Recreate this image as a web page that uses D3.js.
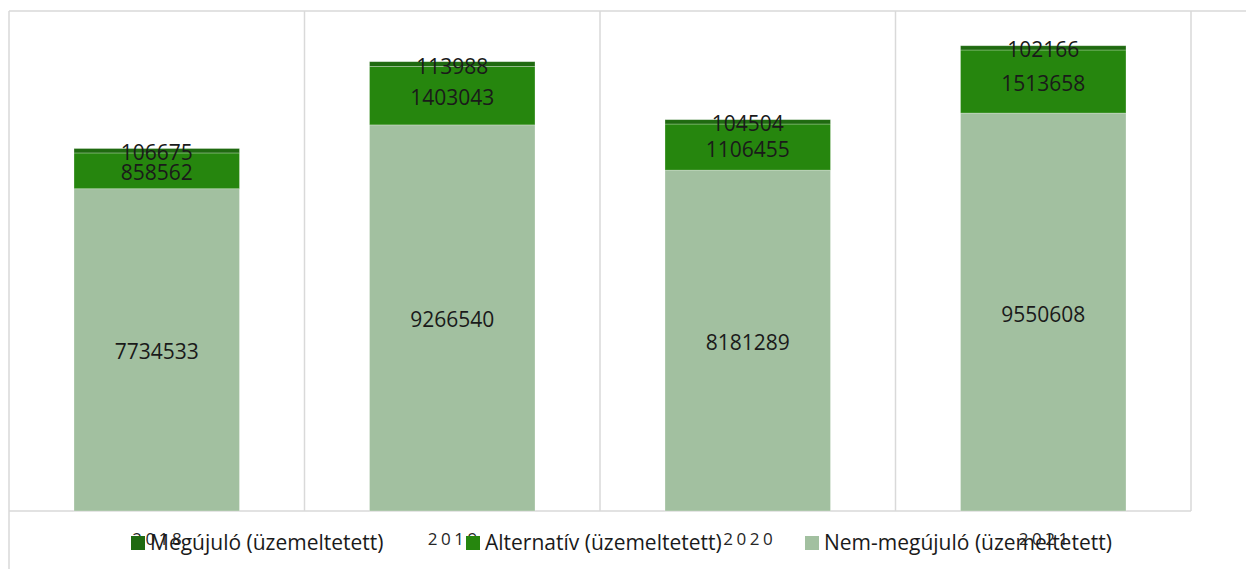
<!DOCTYPE html>
<html>
<head>
<meta charset="utf-8">
<script src="https://cdn.jsdelivr.net/npm/d3@7"></script>
<style>
  body { margin: 0; background: #fff; }
  svg { display: block; font-family: "Open Sans", sans-serif; }
</style>
</head>
<body>
<svg id="chart" width="1246" height="569"></svg>
<script>
// data
var years = ["2018", "2019", "2020", "2021"];
var nemMegujulo = [7734533, 9266540, 8181289, 9550608];
var alternativ = [858562, 1403043, 1106455, 1513658];
var megujulo = [106675, 113988, 104504, 102166];
var seriesNames = ["Nem-megújuló (üzemeltetett)", "Alternatív (üzemeltetett)", "Megújuló (üzemeltetett)"];
var seriesColors = ["#a2c0a0", "#26860e", "#1f6a10"];

var plotLeft = 9, plotRight = 1191, plotTop = 11, plotBottom = 511;

var svg = d3.select("#chart");

var rows = years.map(function (y, i) {
    return { year: y, nem: nemMegujulo[i], alt: alternativ[i], meg: megujulo[i] };
});
var keys = ["nem", "alt", "meg"];

var x = d3.scaleBand()
    .domain(years)
    .range([plotLeft, plotRight])
    .paddingInner(0.44)
    .paddingOuter(0.22);

var y = d3.scaleLinear()
    .domain([0, 12000000])
    .range([plotBottom, plotTop]);

var color = d3.scaleOrdinal().domain(keys).range(seriesColors);

// frame + category separators
var grid = svg.append("g").attr("stroke", "#d9d9d9").attr("stroke-width", 1.5);
grid.append("line").attr("x1", plotLeft).attr("x2", 1246).attr("y1", plotTop).attr("y2", plotTop);
grid.append("line").attr("x1", plotLeft).attr("x2", plotRight).attr("y1", plotBottom).attr("y2", plotBottom);
grid.append("line").attr("x1", plotLeft).attr("x2", plotLeft).attr("y1", plotTop).attr("y2", 569);
d3.range(1, years.length + 1).forEach(function (i) {
    var gx = plotLeft + i * x.step();
    grid.append("line").attr("x1", gx).attr("x2", gx).attr("y1", plotTop).attr("y2", plotBottom);
});

var stacked = d3.stack().keys(keys)(rows);

var layer = svg.append("g")
    .selectAll("g")
    .data(stacked)
    .enter().append("g")
    .attr("fill", function (d) { return color(d.key); });

layer.selectAll("rect")
    .data(function (d) { return d; })
    .enter().append("rect")
    .attr("x", function (d) { return x(d.data.year); })
    .attr("y", function (d) { return y(d[1]); })
    .attr("width", x.bandwidth())
    .attr("height", function (d) { return y(d[0]) - y(d[1]); })
    .attr("stroke", "rgba(255,255,255,0.35)")
    .attr("stroke-width", 0.75);

// value labels
var labels = svg.append("g")
    .attr("font-size", 21)
    .attr("fill", "#1a1a1a")
    .attr("text-anchor", "middle");
stacked.forEach(function (s) {
    s.forEach(function (d) {
        labels.append("text")
            .attr("x", x(d.data.year) + x.bandwidth() / 2)
            .attr("y", (y(d[0]) + y(d[1])) / 2 + 9.5)
            .text(d[1] - d[0]);
    });
});

// category labels
svg.append("g")
    .selectAll("text")
    .data(years)
    .enter().append("text")
    .attr("x", function (d) { return x(d) + x.bandwidth() / 2 + 2; })
    .attr("y", 545)
    .attr("text-anchor", "middle")
    .attr("font-size", 17)
    .attr("letter-spacing", 3.5)
    .attr("fill", "#262626")
    .text(function (d) { return d; });

// legend
var legendOrder = [2, 1, 0];
var legendX = [131, 466, 805];
var legend = svg.append("g")
    .selectAll("g")
    .data(legendOrder)
    .enter().append("g")
    .attr("transform", function (d, i) { return "translate(" + legendX[i] + ",536)"; });
legend.append("rect")
    .attr("width", 14).attr("height", 14)
    .attr("fill", function (d) { return seriesColors[d]; });
legend.append("text")
    .attr("x", 19)
    .attr("y", 14)
    .attr("font-size", 21)
    .attr("fill", "#1a1a1a")
    .text(function (d) { return seriesNames[d]; });
</script>
</body>
</html>
